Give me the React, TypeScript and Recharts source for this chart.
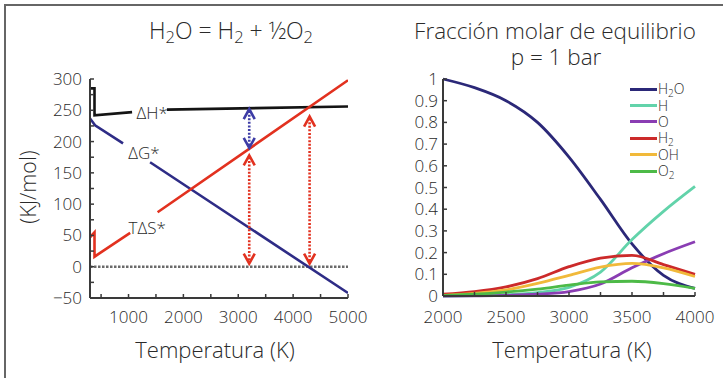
import React from 'react';
import { LineChart, Line, XAxis, YAxis, ReferenceLine, ReferenceDot, Legend } from 'recharts';

// ---------- Left panel data (kJ/mol vs T) ----------
const dhT = [298, 380, 380, 1065, 1300, 1700, 5000];
const dhV = [285, 285, 242, 247, null, 251, 256];
const dgT = [298, 390, 900, 1100, 1393, 5000];
const dgV = [237, 226, 197, null, 167, -42];
const tdsT = [298, 380, 380, 1030, 1250, 1530, 5000];
const tdsV = [47, 55, 16, 54, null, 87, 298];

const curveLabels = ['ΔH*', 'ΔG*', 'TΔS*'];
const curveLabelT = [1430, 1283, 1340];
const curveLabelV = [246, 183, 63];

const arrowT = [3200, 3200, 4300];
const arrowFrom = [5, 190, 5];
const arrowTo = [178, 252, 240];

const leftXTicks = [500, 1000, 1500, 2000, 2500, 3000, 3500, 4000, 4500, 5000];
const leftYTicks = [-50, -25, 0, 25, 50, 75, 100, 125, 150, 175, 200, 225, 250, 275, 300];

// ---------- Right panel data (mole fraction vs T) ----------
const fracT = [2000, 2250, 2500, 2750, 3000, 3250, 3500, 3750, 4000];
const xH2O = [1.0, 0.96, 0.9, 0.8, 0.64, 0.445, 0.24, 0.095, 0.035];
const xH = [0.0, 0.002, 0.006, 0.016, 0.04, 0.11, 0.26, 0.39, 0.505];
const xO = [0.0, 0.001, 0.003, 0.008, 0.02, 0.055, 0.13, 0.195, 0.25];
const xH2 = [0.008, 0.02, 0.042, 0.08, 0.135, 0.175, 0.187, 0.145, 0.1];
const xOH = [0.003, 0.012, 0.028, 0.058, 0.095, 0.133, 0.15, 0.13, 0.09];
const xO2 = [0.002, 0.008, 0.018, 0.032, 0.05, 0.065, 0.068, 0.057, 0.035];
const species = ['H2O', 'H', 'O', 'H2', 'OH', 'O2'];
const speciesValues = [xH2O, xH, xO, xH2, xOH, xO2];

const rightXTicks = [2000, 2250, 2500, 2750, 3000, 3250, 3500, 3750, 4000];
const rightYTicks = [0, 0.1, 0.2, 0.3, 0.4, 0.5, 0.6, 0.7, 0.8, 0.9, 1];

// ---------- styles ----------
const FONT = '"Open Sans", Lato, "DejaVu Sans", sans-serif';
const WEIGHT = 300;
const TEXT = '#2a2a2a';
const AXIS = '#3a3a3a';
const LEFT_COLORS = { dh: '#141414', dg: '#2e2c86', tds: '#e2311f' };
const ARROW_COLORS = ['#e2311f', '#3d3ca6', '#e2311f'];
const SPECIES_COLORS = ['#2b2878', '#62d3aa', '#8a3db3', '#cc2a2a', '#f1b93a', '#4dba47'];

const dhData = dhT.map((t, i) => ({ T: t, v: dhV[i] }));
const dgData = dgT.map((t, i) => ({ T: t, v: dgV[i] }));
const tdsData = tdsT.map((t, i) => ({ T: t, v: tdsV[i] }));
const fracData = fracT.map((t, i) => {
  const row: any = { T: t };
  species.forEach((s, k) => (row[s] = speciesValues[k][i]));
  return row;
});

const Sub = ({ children }: any) => (
  <span style={{ fontSize: '0.72em', position: 'relative', top: '0.25em' }}>{children}</span>
);

const LegSub = ({ children }: any) => (
  <span style={{ display: 'inline-block', fontSize: '0.72em', lineHeight: 1, position: 'relative', top: '0.3em' }}>{children}</span>
);

const formula = (s: string) =>
  s.split(/(\d)/).filter(Boolean).map((p, i) => (/\d/.test(p) ? <LegSub key={i}>{p}</LegSub> : <span key={i}>{p}</span>));

const makeArrow = (color: string) => (props: any) => {
  const { x1, y1, y2 } = props;
  const top = Math.min(y1, y2);
  const bot = Math.max(y1, y2);
  const hw = 5.5;
  const hh = 10;
  return (
    <g>
      <line x1={x1} y1={top + 2} x2={x1} y2={bot - 2} stroke={color} strokeWidth={2.6} strokeDasharray="2 1.6" />
      <polyline points={`${x1 - hw},${top + hh} ${x1},${top} ${x1 + hw},${top + hh}`} fill="none" stroke={color} strokeWidth={2.6} />
      <polyline points={`${x1 - hw},${bot - hh} ${x1},${bot} ${x1 + hw},${bot - hh}`} fill="none" stroke={color} strokeWidth={2.6} />
    </g>
  );
};

const labelShape = (text: string) => (props: any) => (
  <text
    x={props.cx}
    y={props.cy}
    textAnchor="middle"
    dominantBaseline="central"
    fill={TEXT}
    fontSize={17}
    fontWeight={WEIGHT}
    fontFamily={FONT}
  >
    {text}
  </text>
);

const tickStyle = { fill: TEXT, fontSize: 17, fontFamily: FONT, fontWeight: WEIGHT };

const legendContent = () => (
  <div style={{ fontFamily: FONT, fontWeight: WEIGHT, fontSize: 14, color: TEXT }}>
    {species.map((s, i) => (
      <div key={s} style={{ display: 'flex', alignItems: 'center', height: 16.4 }}>
        <span style={{ display: 'inline-block', width: 27, height: 3, background: SPECIES_COLORS[i], marginRight: 1 }} />
        <span style={{ display: 'inline-block', height: 14, lineHeight: '14px' }}>{formula(s)}</span>
      </div>
    ))}
  </div>
);

const abs = (x: number, y: number, extra: any = {}) => ({
  position: 'absolute' as const,
  left: x,
  top: y,
  transform: 'translate(-50%, -50%)',
  whiteSpace: 'nowrap' as const,
  fontFamily: FONT,
  fontWeight: WEIGHT,
  color: TEXT,
  ...extra,
});

export default function App() {
  return (
    <div style={{ position: 'absolute', left: 0, top: 0, width: 723, height: 378, background: '#ffffff', overflow: 'hidden' }}>
      <div
        style={{
          position: 'absolute',
          left: 4,
          top: 4,
          width: 730,
          height: 380,
          borderTop: '2px solid #666',
          borderLeft: '2px solid #666',
        }}
      />

      {/* Left chart */}
      <div style={{ position: 'absolute', left: 0, top: 0 }}>
        <LineChart width={380} height={378} margin={{ top: 79, right: 32, bottom: 50, left: 30 }}>
          <XAxis
            dataKey="T"
            type="number"
            domain={[298, 5000]}
            allowDataOverflow
            ticks={leftXTicks}
            interval={0}
            tickFormatter={(v: number) => (v % 1000 === 0 ? String(v) : '')}
            tick={tickStyle}
            tickSize={-4}
            tickMargin={17}
            height={30}
            axisLine={{ stroke: AXIS, strokeWidth: 2 }}
            tickLine={{ stroke: AXIS, strokeWidth: 1.5 }}
          />
          <XAxis xAxisId="top" orientation="top" dataKey="T" type="number" domain={[298, 5000]} tick={false} tickLine={false} height={0} axisLine={{ stroke: AXIS, strokeWidth: 2 }} />
          <YAxis
            type="number"
            domain={[-50, 300]}
            allowDataOverflow
            ticks={leftYTicks}
            interval={0}
            tickFormatter={(v: number) => (v % 50 === 0 ? (v < 0 ? '\u2212' + Math.abs(v) : String(v)) : '')}
            tick={tickStyle}
            tickSize={-4}
            tickMargin={12}
            width={60}
            axisLine={{ stroke: AXIS, strokeWidth: 2 }}
            tickLine={{ stroke: AXIS, strokeWidth: 1.5 }}
          />
          <YAxis yAxisId="right" orientation="right" domain={[-50, 300]} tick={false} tickLine={false} width={0} axisLine={{ stroke: AXIS, strokeWidth: 2 }} />
          <ReferenceLine y={0} stroke="#6a6a6a" strokeWidth={2.5} strokeDasharray="2.5 1.5" />
          <Line data={dhData} dataKey="v" type="linear" stroke={LEFT_COLORS.dh} strokeWidth={2.6} dot={false} isAnimationActive={false} connectNulls={false} />
          <Line data={dgData} dataKey="v" type="linear" stroke={LEFT_COLORS.dg} strokeWidth={2.6} dot={false} isAnimationActive={false} connectNulls={false} />
          <Line data={tdsData} dataKey="v" type="linear" stroke={LEFT_COLORS.tds} strokeWidth={2.6} dot={false} isAnimationActive={false} connectNulls={false} />
          {arrowT.map((t, i) => (
            <ReferenceLine
              key={'a' + i}
              segment={[{ x: t, y: arrowFrom[i] }, { x: t, y: arrowTo[i] }]}
              stroke={ARROW_COLORS[i]}
              shape={makeArrow(ARROW_COLORS[i])}
            />
          ))}
          {curveLabels.map((s, i) => (
            <ReferenceDot key={'l' + i} x={curveLabelT[i]} y={curveLabelV[i]} r={0} shape={labelShape(s)} />
          ))}
        </LineChart>
      </div>

      {/* Right chart */}
      <div style={{ position: 'absolute', left: 360, top: 0 }}>
        <LineChart width={363} height={378} data={fracData} margin={{ top: 79, right: 28, bottom: 52, left: 33 }}>
          <XAxis
            dataKey="T"
            type="number"
            domain={[2000, 4000]}
            ticks={rightXTicks}
            interval={0}
            tickFormatter={(v: number) => (v % 500 === 0 ? String(v) : '')}
            tick={tickStyle}
            tickSize={-4}
            tickMargin={19}
            height={30}
            axisLine={{ stroke: AXIS, strokeWidth: 2 }}
            tickLine={{ stroke: AXIS, strokeWidth: 1.5 }}
          />
          <XAxis xAxisId="top" orientation="top" dataKey="T" type="number" domain={[2000, 4000]} tick={false} tickLine={false} height={0} axisLine={{ stroke: AXIS, strokeWidth: 2 }} />
          <YAxis
            type="number"
            domain={[0, 1]}
            ticks={rightYTicks}
            interval={0}
            tickFormatter={(v: number) => (v === 0 ? '0' : v === 1 ? '1' : v.toFixed(1))}
            tick={tickStyle}
            tickSize={-4}
            tickMargin={9}
            width={50}
            axisLine={{ stroke: AXIS, strokeWidth: 2 }}
            tickLine={{ stroke: AXIS, strokeWidth: 1.5 }}
          />
          <YAxis yAxisId="right" orientation="right" domain={[0, 1]} tick={false} tickLine={false} width={0} axisLine={{ stroke: AXIS, strokeWidth: 2 }} />
          {species.map((s, i) => (
            <Line key={s} dataKey={s} name={s} type="monotone" stroke={SPECIES_COLORS[i]} strokeWidth={2.8} dot={false} isAnimationActive={false} />
          ))}
          <Legend
            layout="vertical"
            align="center"
            verticalAlign="middle"
            content={legendContent}
            wrapperStyle={{ left: 270, top: 81, width: 70 }}
          />
        </LineChart>
      </div>

      {/* Titles and axis labels */}
      <div style={abs(231, 31, { fontSize: 23, lineHeight: '24px' })}>
        H<Sub>2</Sub>O = H<Sub>2</Sub> + ½O<Sub>2</Sub>
      </div>
      <div style={abs(555, 30, { fontSize: 22.5, lineHeight: '23px' })}>Fracción molar de equilibrio</div>
      <div style={abs(556, 56, { fontSize: 22.5, lineHeight: '23px' })}>p = 1 bar</div>
      <div style={abs(215, 349, { fontSize: 22 })}>Temperatura (K)</div>
      <div style={abs(572, 349, { fontSize: 22 })}>Temperatura (K)</div>
      <div style={abs(27, 187, { fontSize: 21.5, transform: 'translate(-50%, -50%) rotate(-90deg)' })}>(KJ/mol)</div>
    </div>
  );
}
